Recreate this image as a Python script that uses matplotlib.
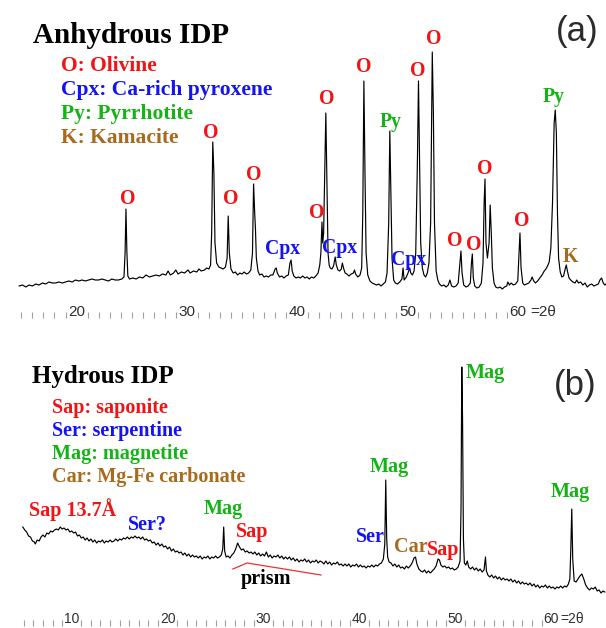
import matplotlib
matplotlib.use("Agg")
import matplotlib.pyplot as plt
from matplotlib.ticker import FixedLocator

# ---------------- data ----------------
# (a) anhydrous IDP pattern: (2theta, intensity)
pattern_a = [
    (14.8, 27), (15.1, 28), (15.4, 26), (15.7, 28), (16.0, 27), (16.3, 29), (16.6, 28), (16.9, 30),
    (17.2, 29), (17.5, 31), (17.8, 30), (18.1, 30), (18.4, 31), (18.7, 30), (19.0, 31), (19.3, 32),
    (19.6, 31), (19.9, 33), (20.2, 32), (20.5, 33), (20.8, 32), (21.1, 33), (21.4, 34), (21.7, 33),
    (22.0, 33), (22.3, 34), (22.6, 33), (22.9, 32), (23.2, 34), (23.5, 33), (23.8, 33), (24.1, 34),
    (24.3, 36), (24.4, 60), (24.48, 104), (24.56, 62), (24.65, 37), (24.8, 34),
    (25.1, 35), (25.4, 34), (25.7, 36), (26.0, 35), (26.3, 38), (26.6, 36), (26.9, 37), (27.2, 38),
    (27.5, 37), (27.8, 39), (28.1, 38), (28.3, 42), (28.5, 38), (28.8, 40), (29.0, 43), (29.2, 39),
    (29.5, 41), (29.8, 40), (30.1, 43), (30.3, 40), (30.6, 42), (30.9, 41), (31.1, 44), (31.3, 42),
    (31.6, 43), (31.8, 45), (32.0, 44), (32.15, 48), (32.25, 80), (32.35, 171), (32.45, 140),
    (32.55, 70), (32.7, 50), (32.9, 46), (33.1, 45), (33.3, 44), (33.5, 46), (33.65, 55), (33.75, 97),
    (33.85, 60), (34.0, 44), (34.2, 40), (34.4, 41), (34.6, 38), (34.8, 40), (35.0, 39), (35.2, 41),
    (35.4, 39), (35.6, 40), (35.8, 43), (35.95, 60), (36.05, 129), (36.15, 100), (36.22, 84),
    (36.3, 55), (36.45, 42), (36.6, 38), (36.8, 39), (37.0, 36), (37.2, 37), (37.4, 36), (37.6, 38),
    (37.8, 38), (38.0, 44), (38.1, 45), (38.2, 40), (38.4, 36), (38.6, 37), (38.8, 35), (39.0, 37),
    (39.2, 38), (39.35, 50), (39.45, 53), (39.55, 42), (39.7, 37), (39.9, 35), (40.1, 36), (40.3, 35),
    (40.5, 37), (40.7, 35), (40.9, 36), (41.1, 34), (41.3, 36), (41.5, 35), (41.7, 37), (41.9, 40),
    (42.05, 48), (42.15, 60), (42.25, 91), (42.32, 70), (42.4, 80), (42.5, 140), (42.6, 200),
    (42.7, 130), (42.8, 60), (42.9, 48), (43.0, 45), (43.15, 44), (43.3, 47), (43.45, 56), (43.55, 48),
    (43.7, 43), (43.85, 42), (44.0, 44), (44.1, 50), (44.2, 45), (44.35, 40), (44.5, 39), (44.7, 37),
    (44.9, 39), (45.1, 40), (45.2, 43), (45.3, 39), (45.5, 36), (45.7, 38), (45.85, 45), (45.95, 100),
    (46.05, 232), (46.15, 140), (46.25, 60), (46.4, 38), (46.6, 32), (46.8, 30), (47.0, 29), (47.2, 28),
    (47.4, 29), (47.6, 27), (47.8, 29), (48.0, 31), (48.15, 40), (48.3, 90), (48.4, 182), (48.5, 120),
    (48.6, 55), (48.75, 33), (48.9, 30), (49.1, 29), (49.3, 31), (49.5, 34), (49.6, 45), (49.7, 33),
    (49.9, 36), (50.05, 40), (50.2, 45), (50.3, 40), (50.45, 38), (50.6, 42), (50.75, 60), (50.9, 150),
    (51.0, 232), (51.1, 150), (51.2, 70), (51.35, 45), (51.5, 38), (51.65, 36), (51.8, 40), (51.95, 50),
    (52.1, 90), (52.25, 261), (52.35, 200), (52.45, 90), (52.6, 42), (52.75, 33), (52.9, 29), (53.1, 27),
    (53.3, 28), (53.5, 26), (53.7, 28), (53.85, 33), (54.0, 27), (54.2, 26), (54.4, 27), (54.6, 30),
    (54.75, 50), (54.85, 62), (54.95, 40), (55.1, 28), (55.3, 26), (55.5, 27), (55.7, 30), (55.8, 50),
    (55.88, 59), (55.97, 35), (56.1, 27), (56.3, 25), (56.5, 26), (56.7, 30), (56.85, 50), (56.95, 110),
    (57.03, 134), (57.12, 70), (57.25, 55), (57.4, 70), (57.5, 108), (57.6, 80), (57.7, 45), (57.85, 30),
    (58.0, 26), (58.2, 25), (58.4, 26), (58.6, 24), (58.8, 26), (59.0, 27), (59.1, 31), (59.25, 28),
    (59.4, 30), (59.6, 28), (59.8, 29), (60.0, 32), (60.1, 55), (60.2, 80), (60.3, 45), (60.45, 30),
    (60.6, 28), (60.8, 29), (61.0, 30), (61.2, 33), (61.3, 36), (61.45, 32), (61.6, 30), (61.8, 32),
    (62.0, 35), (62.2, 38), (62.4, 42), (62.55, 44), (62.7, 47), (62.85, 51), (63.0, 65), (63.15, 110),
    (63.3, 190), (63.4, 203), (63.5, 180), (63.6, 100), (63.7, 55), (63.85, 41), (64.0, 36),
    (64.15, 37), (64.3, 44), (64.4, 48), (64.5, 42), (64.65, 35), (64.8, 33), (65.0, 31), (65.2, 30),
    (65.35, 33), (65.5, 30), (65.7, 31), (65.9, 28), (66.1, 30), (66.3, 26), (66.5, 28), (66.7, 29),
    (66.9, 27), (67.1, 28), (67.3, 29), (67.45, 33), (67.6, 35), (67.75, 30), (67.9, 28), (68.0, 29),
]

# (b) hydrous IDP pattern: (2theta, intensity)
pattern_b = [
    (4.9, 92), (5.1, 89), (5.3, 87), (5.5, 83), (5.7, 82), (5.9, 78), (6.1, 77), (6.2, 75), (6.4, 79),
    (6.6, 78), (6.8, 82), (7.0, 84), (7.2, 82), (7.4, 86), (7.6, 85), (7.8, 88), (8.0, 87), (8.2, 89),
    (8.4, 90), (8.6, 89), (8.8, 92), (9.0, 90), (9.2, 91), (9.4, 89), (9.6, 90), (9.8, 87), (10.0, 88),
    (10.2, 86), (10.4, 87), (10.6, 83), (10.8, 84), (11.0, 81), (11.2, 82), (11.4, 79), (11.6, 81),
    (11.8, 78), (12.0, 80), (12.2, 77), (12.4, 79), (12.6, 76), (12.8, 78), (13.0, 77), (13.2, 79),
    (13.4, 76), (13.6, 78), (13.8, 77), (14.0, 79), (14.2, 77), (14.4, 78), (14.6, 80), (14.8, 78),
    (15.0, 80), (15.2, 79), (15.4, 81), (15.6, 80), (15.8, 82), (16.0, 80), (16.2, 82), (16.4, 81),
    (16.6, 83), (16.8, 81), (17.0, 82), (17.2, 80), (17.4, 82), (17.6, 79), (17.8, 80), (18.0, 78),
    (18.2, 79), (18.4, 76), (18.6, 77), (18.8, 74), (19.0, 76), (19.2, 73), (19.4, 75), (19.6, 72),
    (19.8, 73), (20.0, 70), (20.2, 72), (20.4, 68), (20.6, 70), (20.8, 67), (21.0, 68), (21.2, 66),
    (21.4, 67), (21.6, 64), (21.8, 66), (22.0, 63), (22.2, 65), (22.4, 62), (22.6, 64), (22.8, 62),
    (23.0, 63), (23.2, 61), (23.4, 63), (23.6, 60), (23.8, 62), (24.0, 61), (24.2, 63), (24.4, 60),
    (24.6, 62), (24.8, 61), (25.0, 63), (25.2, 61), (25.4, 62), (25.6, 64), (25.75, 70), (25.85, 92),
    (25.95, 68), (26.1, 62), (26.3, 63), (26.5, 61), (26.7, 64), (26.9, 66), (27.1, 70), (27.3, 76),
    (27.5, 72), (27.7, 69), (27.9, 70), (28.1, 67), (28.3, 68), (28.5, 66), (28.7, 67), (28.9, 65),
    (29.1, 67), (29.3, 64), (29.5, 66), (29.7, 63), (29.9, 65), (30.1, 63), (30.3, 67), (30.5, 62),
    (30.7, 64), (30.9, 61), (31.1, 63), (31.3, 62), (31.5, 64), (31.7, 61), (31.9, 63), (32.1, 60),
    (32.3, 62), (32.5, 60), (32.7, 62), (32.9, 59), (33.1, 61), (33.3, 58), (33.5, 60), (33.7, 57),
    (33.9, 59), (34.1, 58), (34.3, 60), (34.5, 57), (34.7, 59), (34.9, 56), (35.1, 58), (35.3, 57),
    (35.5, 59), (35.7, 56), (35.9, 58), (36.1, 57), (36.3, 55), (36.5, 58), (36.7, 55), (36.9, 57),
    (37.1, 54), (37.3, 56), (37.5, 55), (37.7, 57), (37.9, 54), (38.1, 55), (38.3, 53), (38.5, 55),
    (38.7, 53), (38.9, 55), (39.1, 52), (39.3, 54), (39.5, 53), (39.7, 55), (39.9, 52), (40.1, 54),
    (40.3, 52), (40.5, 53), (40.7, 51), (40.9, 53), (41.1, 52), (41.3, 54), (41.5, 52), (41.7, 54),
    (41.9, 53), (42.1, 55), (42.3, 56), (42.5, 60), (42.65, 75), (42.75, 139), (42.85, 80), (42.95, 62),
    (43.1, 57), (43.3, 56), (43.5, 53), (43.7, 55), (43.9, 52), (44.1, 54), (44.3, 51), (44.5, 52),
    (44.7, 50), (44.9, 53), (45.1, 51), (45.3, 53), (45.5, 56), (45.7, 61), (45.85, 62), (46.0, 55),
    (46.2, 50), (46.4, 48), (46.6, 47), (46.8, 49), (47.0, 46), (47.2, 48), (47.4, 46), (47.6, 48),
    (47.8, 50), (48.0, 53), (48.2, 60), (48.35, 59), (48.5, 54), (48.7, 52), (48.9, 53), (49.1, 51),
    (49.3, 52), (49.5, 50), (49.7, 51), (49.9, 49), (50.1, 50), (50.3, 52), (50.5, 58), (50.6, 110),
    (50.68, 252), (50.76, 200), (50.85, 80), (50.95, 56), (51.1, 54), (51.25, 58), (51.4, 52),
    (51.6, 50), (51.8, 52), (52.0, 49), (52.2, 51), (52.4, 48), (52.6, 50), (52.8, 47), (53.0, 49),
    (53.15, 62), (53.25, 48), (53.4, 44), (53.6, 42), (53.8, 44), (54.0, 41), (54.2, 43), (54.4, 40),
    (54.6, 42), (54.8, 39), (55.0, 41), (55.2, 39), (55.4, 40), (55.6, 38), (55.8, 40), (56.0, 37),
    (56.2, 39), (56.4, 36), (56.6, 38), (56.8, 35), (57.0, 37), (57.2, 35), (57.4, 36), (57.6, 34),
    (57.8, 36), (58.0, 33), (58.2, 35), (58.4, 32), (58.6, 34), (58.8, 31), (59.0, 33), (59.2, 32),
    (59.4, 34), (59.6, 31), (59.8, 33), (60.0, 31), (60.2, 32), (60.4, 30), (60.6, 32), (60.8, 31),
    (61.0, 33), (61.2, 31), (61.4, 33), (61.6, 32), (61.8, 35), (61.95, 40), (62.05, 70), (62.15, 110),
    (62.25, 60), (62.4, 38), (62.6, 37), (62.8, 40), (63.0, 43), (63.2, 45), (63.4, 40), (63.6, 34),
    (63.8, 31), (64.0, 29), (64.2, 31), (64.4, 30), (64.6, 32), (64.8, 28), (65.0, 29), (65.2, 26),
    (65.4, 28), (65.6, 27),
]

# peak labels: (text, phase colour, 2theta, level)
peak_labels_a = [
    ("O", "red", 24.66, 108.5), ("O", "red", 32.18, 175.5), ("O", "red", 34.0, 108.5),
    ("O", "red", 36.08, 133.5), ("Cpx", "blue", 38.71, 59), ("O", "red", 41.8, 94.5),
    ("O", "red", 42.7, 208.5), ("Cpx", "blue", 43.88, 59.5), ("O", "red", 46.06, 240.5),
    ("Py", "green", 48.5, 186), ("Cpx", "blue", 50.14, 48.5), ("O", "red", 50.95, 237.5),
    ("O", "red", 52.4, 269.5), ("O", "red", 54.3, 66.5), ("O", "red", 56.03, 63.5),
    ("O", "red", 57.03, 139.5), ("O", "red", 60.38, 87.5), ("Py", "green", 63.28, 211),
    ("K", "brown", 64.73, 51.5),
]
peak_labels_b = [
    ("Sap 13.7Å", "red", 10.05, 103), ("Ser?", "blue", 17.85, 89), ("Mag", "green", 25.78, 105),
    ("Sap", "red", 28.8, 82), ("Ser", "blue", 41.1, 77), ("Mag", "green", 43.1, 147),
    ("Car", "brown", 45.33, 67), ("Sap", "red", 48.7, 64), ("Mag", "green", 53.1, 241),
    ("Mag", "green", 62.0, 122),
]

legend_a = [("O: Olivine", "red"), ("Cpx: Ca-rich pyroxene", "blue"),
            ("Py: Pyrrhotite", "green"), ("K: Kamacite", "brown")]
legend_b = [("Sap: saponite", "red"), ("Ser: serpentine", "blue"),
            ("Mag: magnetite", "green"), ("Car: Mg-Fe carbonate", "brown")]

prism_theta = [26.8, 28.3, 36.0]
prism_level = [50, 56, 44]

major_ticks = [10, 20, 30, 40, 50, 60]

# ---------------- style ----------------
COLORS = {"red": "#f01414", "blue": "#1414f0", "green": "#14b414", "brown": "#a86a1c"}
SERIF = "Liberation Serif"
SANS = "Liberation Sans"

W, H = 606, 628
fig = plt.figure(figsize=(W / 100, H / 100), dpi=100)


def box(top_px, bottom_px):
    return [0, 1 - bottom_px / H, 1, (bottom_px - top_px) / H]


def ftext(x, y, s, **kw):
    fig.text(x / W, 1 - y / H, s, **kw)


def setup(ax, xlim, ylim, minor_start, labelsize, eq_offset, pad):
    ax.set_xlim(*xlim)
    ax.set_ylim(*ylim)
    for sp in ax.spines.values():
        sp.set_visible(False)
    ax.set_yticks([])
    ax.patch.set_alpha(0)
    majors = [t for t in major_ticks if xlim[0] < t < xlim[1]]
    minors = [t for t in range(minor_start, 61) if t % 10 != 0]
    ax.xaxis.set_major_locator(FixedLocator(majors))
    ax.xaxis.set_minor_locator(FixedLocator(minors))
    ax.set_xticklabels([str(t) for t in majors])
    ax.tick_params(axis="x", which="major", length=0, pad=pad,
                   labelsize=labelsize, labelcolor="#303030")
    ax.tick_params(axis="x", which="minor", length=4, width=0.8,
                   color="#a0a0a0", direction="inout")
    for lab in ax.get_xticklabels():
        lab.set_fontfamily(SANS)
    ax.annotate("=2θ", xy=(60, 0), xycoords=("data", "axes fraction"),
                xytext=(eq_offset, -pad * 100 / 72), textcoords="offset pixels",
                ha="left", va="top", fontsize=labelsize, color="#303030",
                fontfamily=SANS, annotation_clip=False)


# ---------- panel (a) ----------
ax_a = fig.add_axes(box(0, 314.5))
setup(ax_a, (13.06, 68.0), (-1.5, 313), 15, 11, 12, -6.6)
xa = [p[0] for p in pattern_a]
ya = [p[1] for p in pattern_a]
ax_a.plot(xa, ya, color="black", lw=0.85)
for s, c, x, y in peak_labels_a:
    ax_a.text(x, y, s, color=COLORS[c], fontsize=14.2, fontweight="bold",
              fontfamily=SERIF, ha="center", va="baseline")

ftext(33, 43, "Anhydrous IDP", fontsize=21, fontweight="bold", fontfamily=SERIF,
      color="black", ha="left", va="baseline")
for i, (s, c) in enumerate(legend_a):
    ftext(61, 71 + 24 * i, s, fontsize=15.5, fontweight="bold", fontfamily=SERIF,
          color=COLORS[c], ha="left", va="baseline")
ftext(577, 32, "(a)", fontsize=25, fontfamily=SANS, color="#2b2b2b",
      ha="center", va="center")

# ---------- panel (b) ----------
ax_b = fig.add_axes(box(330, 622.5))
setup(ax_b, (2.52, 65.72), (-3.5, 289), 5, 10, 9, -7.35)
xb = [p[0] for p in pattern_b]
yb = [p[1] for p in pattern_b]
ax_b.plot(xb, yb, color="black", lw=0.85)
ax_b.plot(prism_theta, prism_level, color="#ee3030", lw=0.9)
ax_b.text(30.26, 35, "prism", color="black", fontsize=14.5, fontweight="bold",
          fontfamily=SERIF, ha="center", va="baseline")
for s, c, x, y in peak_labels_b:
    ax_b.text(x, y, s, color=COLORS[c], fontsize=14.5, fontweight="bold",
              fontfamily=SERIF, ha="center", va="baseline")

ftext(32, 383, "Hydrous IDP", fontsize=18, fontweight="bold", fontfamily=SERIF,
      color="black", ha="left", va="baseline")
for i, (s, c) in enumerate(legend_b):
    ftext(52, 413 + 23 * i, s, fontsize=14.5, fontweight="bold", fontfamily=SERIF,
          color=COLORS[c], ha="left", va="baseline")
ftext(575, 385, "(b)", fontsize=25, fontfamily=SANS, color="#2b2b2b",
      ha="center", va="center")

fig.savefig("out.png", dpi=100, facecolor="white")
